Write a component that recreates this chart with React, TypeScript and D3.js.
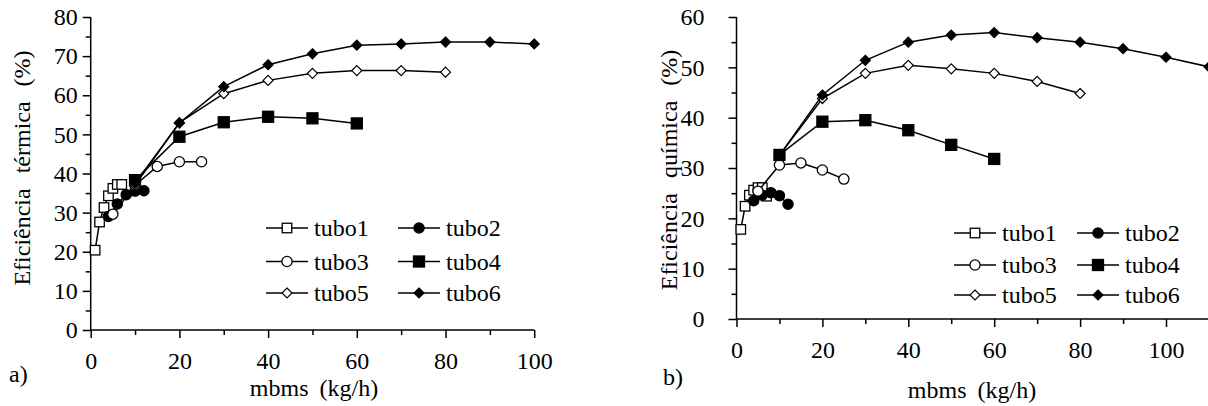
import * as d3 from 'd3';
import {useEffect, useRef} from 'react';

// a) thermal efficiency
const termX1 = [1, 2, 3, 4, 5, 6, 7];
const termY1 = [20.4, 27.6, 31.3, 34.3, 36.2, 37.2, 37.2];
const termX2 = [4, 6, 8, 10, 12];
const termY2 = [29.0, 32.2, 34.6, 35.5, 35.6];
const termX3 = [5, 10, 15, 20, 25];
const termY3 = [29.6, 37.0, 41.8, 43.0, 43.0];
const termX4 = [10, 20, 30, 40, 50, 60];
const termY4 = [38.3, 49.4, 53.1, 54.5, 54.1, 52.8];
const termX5 = [10, 20, 30, 40, 50, 60, 70, 80];
const termY5 = [37.0, 53.0, 60.4, 63.8, 65.6, 66.3, 66.3, 65.9];
const termX6 = [10, 20, 30, 40, 50, 60, 70, 80, 90, 100];
const termY6 = [37.5, 52.9, 62.2, 67.8, 70.6, 72.8, 73.1, 73.6, 73.6, 73.1];

// b) chemical efficiency
const quimX1 = [1, 2, 3, 4, 5, 6, 7];
const quimY1 = [17.8, 22.4, 24.6, 25.6, 26.1, 26.1, 24.4];
const quimX2 = [4, 6, 8, 10, 12];
const quimY2 = [23.5, 24.6, 25.1, 24.5, 22.8];
const quimX3 = [5, 10, 15, 20, 25];
const quimY3 = [25.4, 30.6, 31.0, 29.6, 27.8];
const quimX4 = [10, 20, 30, 40, 50, 60];
const quimY4 = [32.6, 39.2, 39.5, 37.5, 34.6, 31.8];
const quimX5 = [10, 20, 30, 40, 50, 60, 70, 80];
const quimY5 = [32.5, 43.8, 48.8, 50.4, 49.7, 48.8, 47.2, 44.8];
const quimX6 = [10, 20, 30, 40, 50, 60, 70, 80, 90, 100, 110];
const quimY6 = [32.5, 44.5, 51.4, 55.0, 56.4, 56.9, 55.9, 55.0, 53.7, 52.0, 50.1];

const seriesNames = ['tubo1', 'tubo2', 'tubo3', 'tubo4', 'tubo5', 'tubo6'];
const markerShapes = ['square', 'circle', 'circle', 'square', 'diamond', 'diamond'];
const markerFilled = [false, true, false, true, false, true];

const xTicksLeft = [0, 20, 40, 60, 80, 100];
const yTicksLeft = [0, 10, 20, 30, 40, 50, 60, 70, 80];
const xTicksRight = [0, 20, 40, 60, 80, 100];
const yTicksRight = [0, 10, 20, 30, 40, 50, 60];

const FONT = 'Liberation Serif, Times New Roman, Times, serif';

const pair = (xs: number[], ys: number[]) => xs.map((x, i) => [x, ys[i]] as [number, number]);

const termSeries = [
    pair(termX1, termY1), pair(termX2, termY2), pair(termX3, termY3),
    pair(termX4, termY4), pair(termX5, termY5), pair(termX6, termY6),
];
const quimSeries = [
    pair(quimX1, quimY1), pair(quimX2, quimY2), pair(quimX3, quimY3),
    pair(quimX4, quimY4), pair(quimX5, quimY5), pair(quimX6, quimY6),
];

function drawMarker(g: any, shape: string, filled: boolean, cx: number, cy: number, big: boolean) {
    const fill = filled ? '#000' : '#fff';
    if (shape === 'circle') {
        g.append('circle').attr('cx', cx).attr('cy', cy).attr('r', 5.1)
            .attr('fill', fill).attr('stroke', '#000').attr('stroke-width', 1.3);
    } else if (shape === 'square') {
        const s = big ? 11 : 9.5;
        g.append('rect').attr('x', cx - s / 2).attr('y', cy - s / 2).attr('width', s).attr('height', s)
            .attr('fill', fill).attr('stroke', '#000').attr('stroke-width', 1.3);
    } else {
        const r = 5;
        g.append('path')
            .attr('d', `M${cx},${cy - r}L${cx + r},${cy}L${cx},${cy + r}L${cx - r},${cy}Z`)
            .attr('fill', fill).attr('stroke', '#000').attr('stroke-width', 1.2);
    }
}

type Panel = {
    series: [number, number][][];
    x0: number; x1: number; xMax: number; xTicks: number[]; axisEnd: number;
    y0: number; y1: number; yMax: number; yTicks: number[];
    yLabel: string; yLabelX: number; yLabelY: number;
    xLabelX: number; xLabelY: number;
    tag: string; tagX: number; tagY: number;
    legX: number[]; legY: number[]; tickPad: number;
};

function drawPanel(svg: any, p: Panel) {
    const x = d3.scaleLinear().domain([0, p.xMax]).range([p.x0, p.x1]);
    const y = d3.scaleLinear().domain([0, p.yMax]).range([p.y0, p.y1]);
    const g = svg.append('g');

    // minor ticks
    const xMinor = d3.range(10, p.xMax, 20);
    const yMinor = d3.range(5, p.yMax, 10);
    g.append('g').attr('transform', `translate(0,${p.y0})`)
        .call(d3.axisBottom(x).tickValues(xMinor).tickSize(5).tickSizeOuter(0).tickFormat(() => ''));
    g.append('g').attr('transform', `translate(${p.x0},0)`)
        .call(d3.axisLeft(y).tickValues(yMinor).tickSize(5).tickSizeOuter(0).tickFormat(() => ''));

    const xa = g.append('g').attr('transform', `translate(0,${p.y0})`)
        .call(d3.axisBottom(x).tickValues(p.xTicks).tickSize(8).tickSizeOuter(0).tickPadding(14));
    const ya = g.append('g').attr('transform', `translate(${p.x0},0)`)
        .call(d3.axisLeft(y).tickValues(p.yTicks).tickSize(8).tickSizeOuter(0).tickPadding(p.tickPad));

    g.selectAll('.domain').remove();
    g.selectAll('g').attr('font-family', null);
    g.append('line').attr('x1', p.x0).attr('x2', p.axisEnd).attr('y1', p.y0).attr('y2', p.y0)
        .attr('stroke', '#000').attr('stroke-width', 1.5);
    g.append('line').attr('x1', p.x0).attr('x2', p.x0).attr('y1', p.y0).attr('y2', p.y1)
        .attr('stroke', '#000').attr('stroke-width', 1.5);

    g.selectAll('.tick line').attr('stroke', '#000').attr('stroke-width', 1.5);
    [xa, ya].forEach((a) => a.selectAll('text').style('font-family', FONT).style('font-size', '24px').attr('fill', '#000'));

    const line = d3.line<[number, number]>().x((d) => x(d[0])).y((d) => y(d[1]));

    p.series.forEach((s, i) => {
        g.append('path').attr('d', line(s)).attr('fill', 'none').attr('stroke', '#000').attr('stroke-width', 1.5);
        s.forEach((d) => drawMarker(g, markerShapes[i], markerFilled[i], x(d[0]), y(d[1]), i === 3));
    });

    // legend
    seriesNames.forEach((name, i) => {
        const lx = p.legX[i % 2];
        const ly = p.legY[Math.floor(i / 2)];
        g.append('line').attr('x1', lx).attr('x2', lx + 42).attr('y1', ly).attr('y2', ly)
            .attr('stroke', '#000').attr('stroke-width', 1.5);
        drawMarker(g, markerShapes[i], markerFilled[i], lx + 21, ly, i === 3);
        g.append('text').attr('x', lx + 48).attr('y', ly + 8).text(name)
            .style('font-family', FONT).style('font-size', '24px');
    });

    g.append('text')
        .attr('transform', `translate(${p.yLabelX},${p.yLabelY}) rotate(-90)`)
        .attr('text-anchor', 'middle').style('font-family', FONT).style('font-size', '24px')
        .style('word-spacing', '9px').text(p.yLabel);
    g.append('text').attr('x', p.xLabelX).attr('y', p.xLabelY).attr('text-anchor', 'middle')
        .style('font-family', FONT).style('font-size', '24px').style('word-spacing', '5px').text('mbms (kg/h)');
    g.append('text').attr('x', p.tagX).attr('y', p.tagY)
        .style('font-family', FONT).style('font-size', '24px').text(p.tag);
}

export default function App() {
    const ref = useRef<SVGSVGElement>(null);

    useEffect(() => {
        const svg = d3.select(ref.current);
        svg.selectAll('*').remove();
        svg.append('rect').attr('width', 1208).attr('height', 406).attr('fill', '#fff');

        drawPanel(svg, {
            series: termSeries,
            x0: 90.7, x1: 534.2, xMax: 100, xTicks: xTicksLeft, axisEnd: 534.2,
            y0: 330, y1: 17, yMax: 80, yTicks: yTicksLeft,
            yLabel: 'Eficiência térmica (%)', yLabelX: 30, yLabelY: 168,
            xLabelX: 314, xLabelY: 396,
            tag: 'a)', tagX: 9, tagY: 382,
            legX: [266, 398], legY: [228, 261.5, 293], tickPad: 5,
        });
        drawPanel(svg, {
            series: quimSeries,
            x0: 736.5, x1: 1251.9, xMax: 120, xTicks: xTicksRight, axisEnd: 1252,
            y0: 319, y1: 17, yMax: 60, yTicks: yTicksRight,
            yLabel: 'Eficiência química (%)', yLabelX: 677, yLabelY: 170,
            xLabelX: 972, xLabelY: 398,
            tag: 'b)', tagX: 663, tagY: 385,
            legX: [954, 1077], legY: [233, 265, 295], tickPad: 24,
        });
    }, []);

    return (
        <svg ref={ref} width={1208} height={406}
            style={{position: 'absolute', left: 0, top: 0, overflow: 'hidden'}} />
    );
}
